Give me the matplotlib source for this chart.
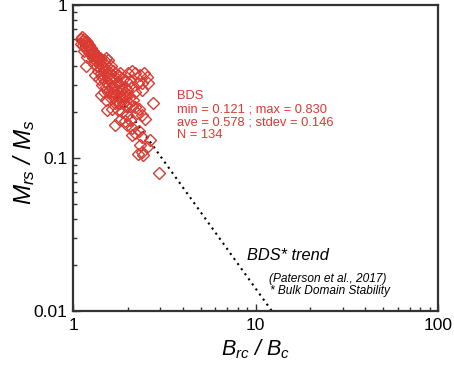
import numpy as np
import matplotlib
matplotlib.use("Agg")
import matplotlib.pyplot as plt

plt.rcParams['font.family'] = ['Liberation Sans', 'DejaVu Sans']
plt.rcParams['mathtext.fontset'] = 'custom'
plt.rcParams['mathtext.it'] = 'Liberation Sans:italic'
plt.rcParams['mathtext.rm'] = 'Liberation Sans'

# Brc/Bc values (x) and Mrs/Ms values (y)
brc_bc = [
    1.10, 1.12, 1.13, 1.15, 1.16, 1.11, 1.14, 1.18, 1.19, 1.20, 1.17, 1.21, 1.23, 1.24, 1.22,
    1.26, 1.27, 1.25, 1.29, 1.30, 1.32, 1.28, 1.20, 1.15, 1.34, 1.36, 1.38, 1.33, 1.40, 1.43,
    1.47, 1.52, 1.56, 1.18,
    1.30, 1.35, 1.40, 1.45, 1.50, 1.37, 1.42, 1.47, 1.52, 1.57, 1.62, 1.55, 1.60, 1.66, 1.70,
    1.32, 1.38, 1.44, 1.50, 1.58, 1.64, 1.70, 1.76, 1.82, 1.88, 1.94,
    2.00, 2.10, 2.20, 2.33, 2.45, 2.55, 2.05, 2.27, 2.40, 2.57, 2.39, 2.74,
    1.45, 1.52, 1.58, 1.64, 1.70, 1.76, 1.82, 1.48, 1.55, 1.62, 1.68, 1.74, 1.80, 1.86, 1.92,
    1.98, 2.10, 2.20, 1.60, 1.66, 1.72, 1.78, 1.84, 1.90, 1.96, 2.04, 2.14, 1.70, 1.76, 1.82,
    1.88, 1.95, 2.02, 2.10, 1.52, 1.42,
    1.53, 1.63, 1.76, 1.85, 1.98, 2.19, 2.24, 2.30, 2.48, 2.40, 1.81, 1.92, 2.05, 1.70, 1.98,
    2.10, 2.19, 2.30, 2.39, 2.10, 2.33, 2.39, 2.27, 2.54, 2.42, 2.64, 2.96,
]
mrs_ms = [
    0.60, 0.62, 0.58, 0.60, 0.57, 0.56, 0.55, 0.58, 0.55, 0.57, 0.52, 0.53, 0.55, 0.51, 0.49,
    0.52, 0.49, 0.47, 0.50, 0.47, 0.48, 0.45, 0.46, 0.50, 0.45, 0.46, 0.44, 0.43, 0.45, 0.44,
    0.44, 0.45, 0.44, 0.40,
    0.41, 0.40, 0.41, 0.40, 0.41, 0.37, 0.36, 0.38, 0.37, 0.39, 0.40, 0.35, 0.36, 0.37, 0.36,
    0.35, 0.33, 0.34, 0.32, 0.33, 0.33, 0.34, 0.35, 0.36, 0.33, 0.32,
    0.36, 0.37, 0.36, 0.35, 0.36, 0.34, 0.32, 0.31, 0.31, 0.31, 0.28, 0.23,
    0.30, 0.29, 0.30, 0.29, 0.30, 0.31, 0.30, 0.27, 0.27, 0.27, 0.27, 0.28, 0.28, 0.28, 0.29,
    0.28, 0.29, 0.27, 0.25, 0.25, 0.26, 0.25, 0.25, 0.26, 0.25, 0.25, 0.24, 0.23, 0.23, 0.23,
    0.23, 0.22, 0.23, 0.22, 0.24, 0.26,
    0.205, 0.21, 0.205, 0.20, 0.19, 0.215, 0.196, 0.21, 0.18, 0.19, 0.177, 0.175, 0.178, 0.165, 0.164,
    0.157, 0.146, 0.150, 0.137, 0.141, 0.122, 0.109, 0.107, 0.118, 0.105, 0.131, 0.080,
]

# BDS trend (Paterson et al., 2017): Mrs/Ms = a * (Brc/Bc)^b
trend_a = 0.640
trend_b = -1.658
trend_xmin = 1.05
trend_ymin = 0.01

stats_lines = ["BDS", "min = 0.121 ; max = 0.830", "ave = 0.578 ; stdev = 0.146", "N = 134"]

red = '#d93a32'

fig = plt.figure(figsize=(4.54, 3.76), dpi=100)
ax = fig.add_axes([73/454, 65/376, 365/454, 306/376])

trend_xmax = (trend_ymin / trend_a) ** (1.0 / trend_b)
tx = np.logspace(np.log10(trend_xmin), np.log10(trend_xmax), 200)
ax.plot(tx, trend_a * tx ** trend_b, color='black', linestyle=(0, (1, 2)), lw=1.5, zorder=1)

ax.plot(brc_bc, mrs_ms, linestyle='none', marker='D', markersize=5.8,
        markerfacecolor='none', markeredgecolor=red, markeredgewidth=1.0, zorder=2)

ax.set_xscale('log')
ax.set_yscale('log')
ax.set_xlim(1, 100)
ax.set_ylim(0.01, 1)
ax.set_xticks([1, 10, 100])
ax.set_xticklabels(['1', '10', '100'])
ax.set_yticks([0.01, 0.1, 1])
ax.set_yticklabels(['0.01', '0.1', '1'])
ax.tick_params(which='major', direction='in', length=5, width=1, labelsize=12.5, color='#333333')
ax.tick_params(which='minor', direction='in', length=3, width=1, color='#333333')
ax.tick_params(axis='x', pad=5)
ax.tick_params(axis='y', pad=4)
for s in ax.spines.values():
    s.set_linewidth(1.6)
    s.set_color('#333333')

ax.set_xlabel(r'$B_{rc}$ / $B_c$', fontsize=15.5, fontstyle='italic', labelpad=3)
fig.text(24/454, 1 - 162/376, r'$M_{rs}$ / $M_s$', fontsize=17.5, rotation=90,
         ha='center', va='center', fontstyle='italic')

ax.text(0.285, 0.722, "\n".join(stats_lines), transform=ax.transAxes, color=red,
        fontsize=9.3, va='top', ha='left', linespacing=1.12)

ax.text(0.477, 0.183, "BDS* trend", transform=ax.transAxes, fontsize=11.8,
        fontstyle='italic', va='center', ha='left')
ax.text(0.537, 0.105, "(Paterson et al., 2017)", transform=ax.transAxes, fontsize=8.6,
        fontstyle='italic', va='center', ha='left')
ax.text(0.539, 0.064, "* Bulk Domain Stability", transform=ax.transAxes, fontsize=8.6,
        fontstyle='italic', va='center', ha='left')

fig.savefig('out.png', dpi=100)
